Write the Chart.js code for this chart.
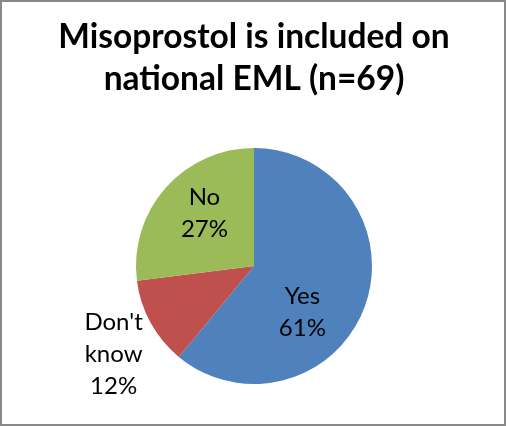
<!DOCTYPE html>
<html>
<head>
<meta charset="utf-8">
<script src="https://cdn.jsdelivr.net/npm/chart.js"></script>
<style>
  html, body { margin: 0; padding: 0; background: #fff; }
  #frame {
    width: 506px; height: 426px; box-sizing: border-box;
    border: 2px solid #898989; position: relative;
  }
  #chart { position: absolute; left: -2px; top: -2px; }
</style>
</head>
<body>
<div id="frame"><canvas id="chart" width="506" height="426"></canvas></div>
<script>
// data
const categories = ["Yes", "Don't know", "No"];
const shares = [61, 12, 27];            // percent of respondents
const sliceLabels = [["Yes", "61%"], ["Don't", "know", "12%"], ["No", "27%"]];
const titleLines = ["Misoprostol is included on", "national EML (n=69)"];

const sliceColours = ["#4f81bd", "#c0504d", "#9bbb59"];

// where each label block sits, as a fraction of the radius from the pie centre
const labelSpots = [[0.41, 0.39], [-1.19, 0.75], [-0.42, -0.45]];

const labelPlugin = {
  id: 'sliceLabels',
  afterDatasetsDraw(chart) {
    const arc = chart.getDatasetMeta(0).data[0];
    if (!arc) return;
    const { x, y, outerRadius } = arc.getProps(['x', 'y', 'outerRadius'], true);
    const ctx = chart.ctx;
    ctx.save();
    ctx.fillStyle = '#000';
    ctx.font = '24px Lato';
    ctx.textAlign = 'center';
    ctx.textBaseline = 'middle';
    const lh = 32;
    sliceLabels.forEach((lines, i) => {
      const cx = x + labelSpots[i][0] * outerRadius;
      const cy = y + labelSpots[i][1] * outerRadius;
      const y0 = cy - (lines.length - 1) * lh / 2;
      lines.forEach((t, j) => ctx.fillText(t, cx, y0 + j * lh));
    });
    ctx.restore();
  }
};

new Chart(document.getElementById('chart'), {
  type: 'pie',
  data: {
    labels: categories,
    datasets: [{
      data: shares,
      backgroundColor: sliceColours,
      borderWidth: 0,
      radius: 118
    }]
  },
  options: {
    responsive: false,
    animation: false,
    layout: { padding: { left: 2, bottom: 42 } },
    plugins: {
      legend: { display: false },
      tooltip: { enabled: false },
      title: {
        display: true,
        text: titleLines,
        color: '#000',
        font: { family: 'Lato', size: 33.5, weight: 'bold', lineHeight: 1.254 },
        padding: { top: 16, bottom: 48 }
      }
    }
  },
  plugins: [labelPlugin]
});
</script>
</body>
</html>
